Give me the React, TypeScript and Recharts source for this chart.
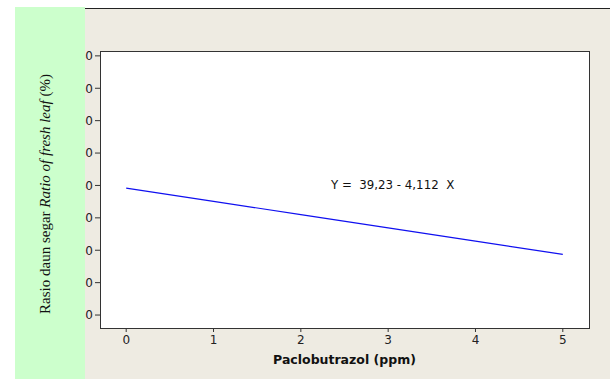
import { LineChart, Line, XAxis, YAxis, CartesianGrid, Label } from 'recharts';

const doses = [0, 1, 2, 3, 4, 5];
const ratio = [39.2, 35.1, 31.0, 26.9, 22.8, 18.7];
const xTicks = [0, 1, 2, 3, 4, 5];
const yTicks = [0, 10, 20, 30, 40, 50, 60, 70, 80];
const equation = 'Y =  39,23 - 4,112  X';

const data = doses.map((d, i) => ({ x: d, y: ratio[i] }));

const tickStyle = { fontSize: 12, fill: '#222', fontFamily: 'DejaVu Sans' };

export default function App() {
  return (
    <div style={{ position: 'absolute', left: 0, top: 0, width: 610, height: 379, background: '#fff' }}>
      <div style={{ position: 'absolute', left: 85, top: 9, width: 525, height: 370, background: '#EEEBE2' }} />
      <div style={{ position: 'absolute', left: 85, top: 8, width: 525, height: 1, background: '#222' }} />
      <div style={{ position: 'absolute', left: 0, top: 0 }}>
        <LineChart width={610} height={379} data={data} margin={{ top: 51, right: 21, bottom: 0, left: 60 }}>
          <CartesianGrid horizontal={false} vertical={false} fill="#fff" />
          <XAxis
            type="number"
            dataKey="x"
            domain={[-0.3, 5.3]}
            ticks={xTicks}
            allowDataOverflow
            tick={tickStyle}
            tickSize={4}
            tickMargin={3}
            stroke="#333"
            axisLine={false}
            height={51}
          >
            <Label
              value="Paclobutrazol (ppm)"
              position="insideTop"
              offset={27}
              style={{ fontSize: 12.5, fontWeight: 'bold', fill: '#111', fontFamily: 'DejaVu Sans' }}
            />
          </XAxis>
          <YAxis
            type="number"
            domain={[-4, 81.5]}
            ticks={yTicks}
            allowDataOverflow
            tick={tickStyle}
            tickSize={5}
            tickMargin={2}
            stroke="#333"
            axisLine={false}
            width={40}
          />
          <Line
            type="linear"
            dataKey="y"
            stroke="#1010F0"
            strokeWidth={1.2}
            dot={false}
            isAnimationActive={false}
          />
        </LineChart>
      </div>
      <div
        style={{
          position: 'absolute',
          left: 100,
          top: 51,
          width: 488,
          height: 276,
          border: '1px solid #333',
          pointerEvents: 'none',
        }}
      />
      <div
        style={{
          position: 'absolute',
          left: 331,
          top: 178,
          fontSize: 11.8,
          fontFamily: 'DejaVu Sans',
          color: '#111',
          whiteSpace: 'pre',
        }}
      >
        {equation}
      </div>
      <div style={{ position: 'absolute', left: 15, top: 7, width: 70, height: 372, background: '#CCFFCC' }}>
        <div
          style={{
            position: 'absolute',
            left: 30,
            top: 187,
            transform: 'translate(-50%, -50%) rotate(-90deg)',
            whiteSpace: 'nowrap',
            fontFamily: 'Liberation Serif',
            fontSize: 15,
            color: '#111',
          }}
        >
          Rasio daun segar <i>Ratio of fresh leaf</i> (%)
        </div>
      </div>
    </div>
  );
}
